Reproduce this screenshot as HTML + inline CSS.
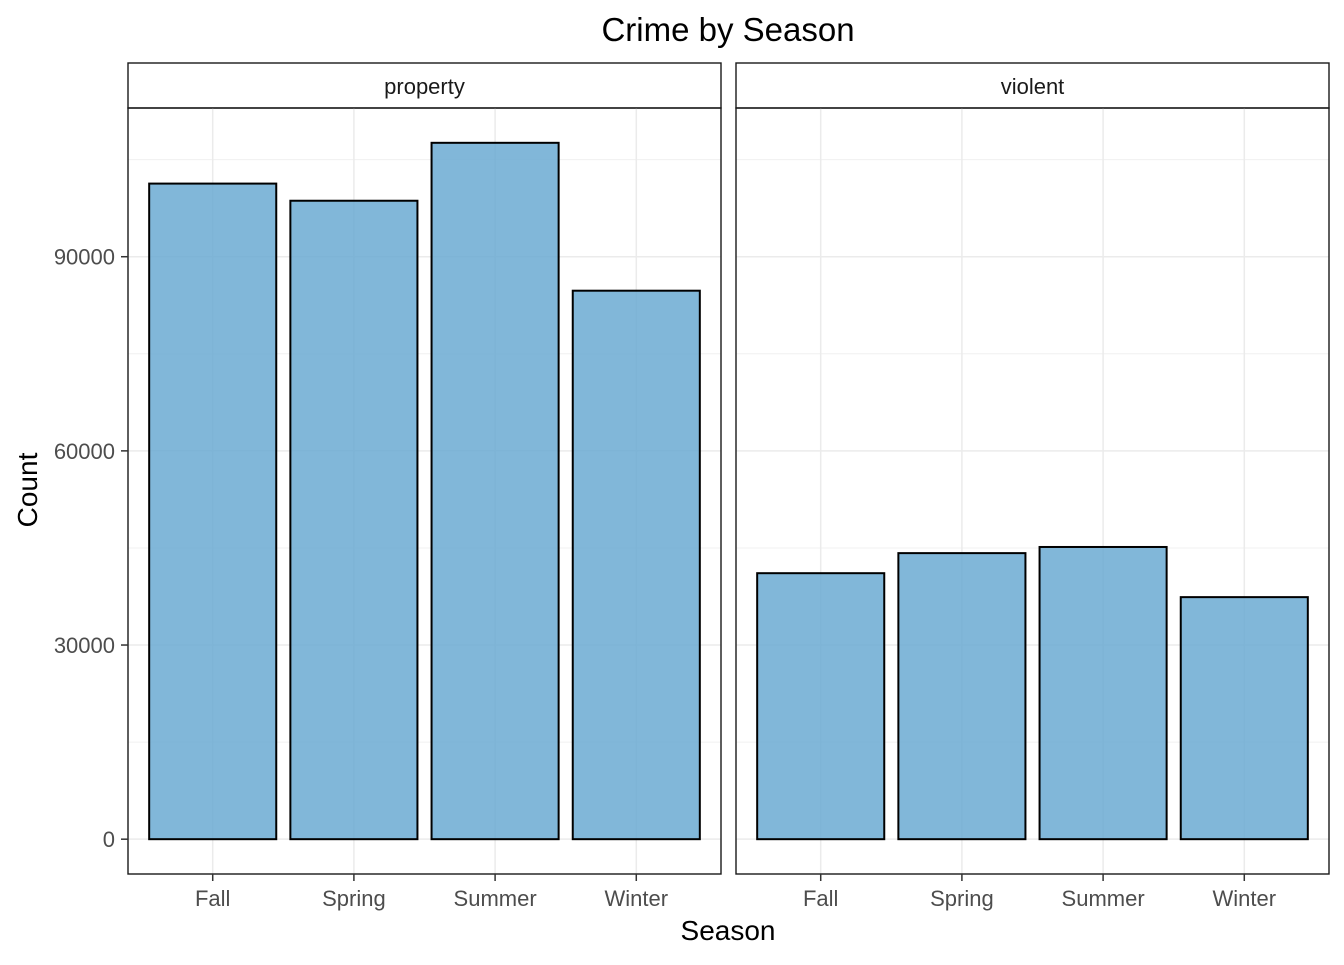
<!DOCTYPE html>
<html><head><meta charset="utf-8"><style>
body{margin:0;background:#fff;}
svg text{font-family:"Liberation Sans",Arial,sans-serif;}
</style></head><body>
<svg id="chart" width="1344" height="960" viewBox="0 0 1344 960">
<rect width="1344" height="960" fill="#fff"/>
<text x="728" y="41" font-size="33" text-anchor="middle" fill="#000">Crime by Season</text>
<text x="728" y="940" font-size="28" text-anchor="middle" fill="#000">Season</text>
<text transform="translate(37,490) rotate(-90)" font-size="28" text-anchor="middle" fill="#000">Count</text>
<g id="panels"></g>
</svg>
<script>
const categories = ["Fall","Spring","Summer","Winter"];
const facets = ["property","violent"];
const propertyValues = [101300, 98650, 107600, 84750];
const violentValues = [41100, 44200, 45150, 37400];
const yTicks = [0, 30000, 60000, 90000];
const yTickLabels = ["0","30000","60000","90000"];
const yMinor = [15000, 45000, 75000, 105000];

const NS = "http://www.w3.org/2000/svg";
const g = document.getElementById("panels");
const series = [propertyValues, violentValues];
const allVals = propertyValues.concat(violentValues);
const vmax = Math.max(...allVals);
const yLo = -0.05 * vmax, yHi = 1.05 * vmax;
const plotTop = 108, plotBot = 874;
function y(v){ return plotBot - (v - yLo) / (yHi - yLo) * (plotBot - plotTop); }
const panelX = [128, 736], panelW = 593;
function xScale(px){ const step = panelW / (categories.length - 1 + 1.2); return i => px + (0.6 + i) * step; }
function mk(tag, attrs){ const e = document.createElementNS(NS, tag); for (const k in attrs) e.setAttribute(k, attrs[k]); g.appendChild(e); return e; }

facets.forEach((f, p) => {
  const px = panelX[p]; const x = xScale(px); const step = panelW / (categories.length + 0.2);
  const strip = mk("rect", {x:px, y:63, width:panelW, height:45, fill:"#fff", stroke:"#1a1a1a", "stroke-width":1.4});
  
  
  const st = mk("text", {x:px + panelW/2, y:94, "font-size":22, "text-anchor":"middle", fill:"#1a1a1a"});
  st.textContent = f;
  
  
  yMinor.forEach(v => {
    const l = mk("line", {x1:px, x2:px+panelW, y1:y(v), y2:y(v), stroke:"#f0f0f0", "stroke-width":1});
    
    
  });
  yTicks.forEach(v => {
    const l = mk("line", {x1:px, x2:px+panelW, y1:y(v), y2:y(v), stroke:"#ebebeb", "stroke-width":1.5});
    
    
  });
  categories.forEach((c, i) => {
    const l = mk("line", {x1:x(i), x2:x(i), y1:plotTop, y2:plotBot, stroke:"#ebebeb", "stroke-width":1.5});
    
    
  });
  const bw = step * 0.9;
  series[p].forEach((v, i) => {
    const b = mk("rect", {x:x(i)-bw/2, y:y(v), width:bw, height:y(0)-y(v), fill:"rgba(107,170,210,0.85)", stroke:"#000", "stroke-width":2});
    
    
  });
  const br = mk("rect", {x:px, y:plotTop, width:panelW, height:plotBot-plotTop, fill:"none", stroke:"#1a1a1a", "stroke-width":1.4});
  
  
  categories.forEach((c, i) => {
    const t = mk("line", {x1:x(i), x2:x(i), y1:plotBot, y2:plotBot+7, stroke:"#333", "stroke-width":1.5});
    
    
    const tl = mk("text", {x:x(i), y:906, "font-size":22, "text-anchor":"middle", fill:"#4d4d4d"});
    tl.textContent = c;
    
    
  });
});
yTicks.forEach((v, i) => {
  const t = mk("line", {x1:121, x2:128, y1:y(v), y2:y(v), stroke:"#333", "stroke-width":1.5});
  
  
  const tl = mk("text", {x:115, y:y(v)+8, "font-size":22, "text-anchor":"end", fill:"#4d4d4d"});
  tl.textContent = yTickLabels[i];
  
  
});
</script>
</body></html>
